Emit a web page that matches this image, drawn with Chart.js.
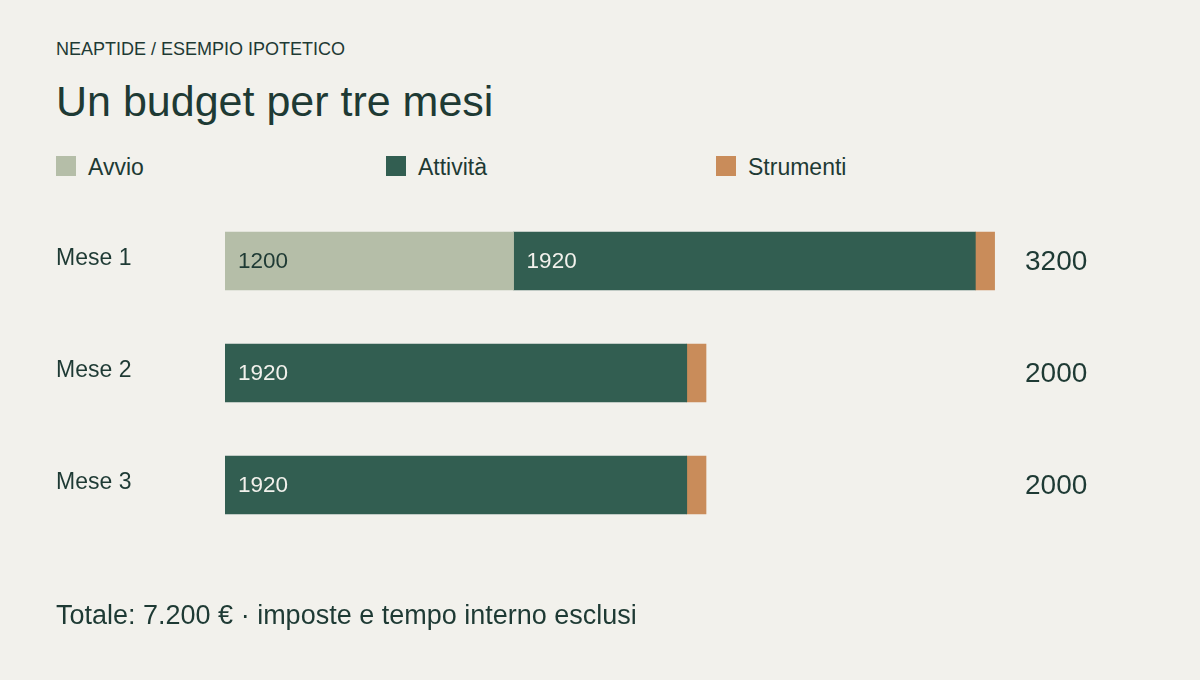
<!DOCTYPE html>
<html lang="it">
<head>
<meta charset="utf-8">
<script src="https://cdn.jsdelivr.net/npm/chart.js@4/dist/chart.umd.min.js"></script>
<style>
  html, body { margin: 0; padding: 0; background: #f2f1ec; }
  body { width: 1200px; height: 680px; position: relative; overflow: hidden;
         font-family: "Liberation Sans", Arial, sans-serif; color: #1e3a34; }
  .abs { position: absolute; line-height: 1; white-space: nowrap; }
  #kicker { left: 56px; top: 40px; font-size: 18px; }
  #title { left: 56px; top: 80px; font-size: 43px; }
  #legend { left: 0; top: 156px; height: 20px; }
  .item { position: absolute; top: 0; display: flex; align-items: center; height: 20px; font-size: 23px; }
  .item span:last-child { position: relative; top: 1px; }
  .sw { width: 20px; height: 20px; margin-right: 12px; }
  #footer { left: 56px; top: 602px; font-size: 27px; }
  #c { position: absolute; left: 0; top: 0; }
</style>
</head>
<body>
<div id="kicker" class="abs">NEAPTIDE / ESEMPIO IPOTETICO</div>
<div id="title" class="abs">Un budget per tre mesi</div>
<div id="legend" class="abs"></div>
<canvas id="c" width="1200" height="680"></canvas>
<div id="footer" class="abs">Totale: 7.200 € · imposte e tempo interno esclusi</div>
<script>
const categories = ['Mese 1', 'Mese 2', 'Mese 3'];
const seriesNames = ['Avvio', 'Attività', 'Strumenti'];
const avvio = [1200, null, null];
const attivita = [1920, 1920, 1920];
const strumenti = [80, 80, 80];
const seriesColors = ['#b5bea8', '#325e51', '#c98c5a'];
const labelColors = ['#1e3a34', '#f2f1ec', null];

const INK = '#1e3a34';
const FONT = '"Liberation Sans", Arial, sans-serif';

// HTML legend
const legendEl = document.getElementById('legend');
const legendX = [56, 386, 716];
seriesNames.forEach((n, i) => {
  const it = document.createElement('div');
  it.className = 'item';
  it.style.left = legendX[i] + 'px';
  it.innerHTML = '<span class="sw" style="background:' + seriesColors[i] + '"></span><span>' + n + '</span>';
  legendEl.appendChild(it);
});

const valueLabels = {
  id: 'valueLabels',
  afterDatasetsDraw(chart) {
    const ctx = chart.ctx;
    ctx.save();
    ctx.font = '22.5px ' + FONT;
    ctx.textBaseline = 'middle';
    ctx.textAlign = 'left';
    chart.data.datasets.forEach((ds, di) => {
      if (!labelColors[di]) return;
      const meta = chart.getDatasetMeta(di);
      meta.data.forEach((el, i) => {
        const v = ds.data[i];
        if (v == null) return;
        const x0 = Math.min(el.x, el.base);
        ctx.fillStyle = labelColors[di];
        ctx.fillText(String(v), x0 + 13, el.y + 1);
      });
    });
    // totals
    ctx.font = '28px ' + FONT;
    ctx.fillStyle = INK;
    const yScale = chart.scales.y;
    const xTot = chart.chartArea.right - 162;
    categories.forEach((c, i) => {
      const tot = (avvio[i] || 0) + (attivita[i] || 0) + (strumenti[i] || 0);
      ctx.fillText(String(tot), xTot, yScale.getPixelForValue(i) + 1);
    });
    ctx.restore();
  }
};

new Chart(document.getElementById('c'), {
  type: 'bar',
  data: {
    labels: categories,
    datasets: [
      { label: seriesNames[0], data: avvio, backgroundColor: seriesColors[0] },
      { label: seriesNames[1], data: attivita, backgroundColor: seriesColors[1] },
      { label: seriesNames[2], data: strumenti, backgroundColor: seriesColors[2] }
    ]
  },
  options: {
    indexAxis: 'y',
    responsive: false,
    animation: false,
    devicePixelRatio: 1,
    datasets: { bar: { barThickness: 58, borderWidth: 0 } },
    layout: { padding: { left: 56, right: 13, top: 205, bottom: 139 } },
    plugins: { legend: { display: false }, tooltip: { enabled: false } },
    scales: {
      x: { stacked: true, min: 0, max: 4000, display: false },
      y: {
        stacked: true,
        grid: { display: false },
        border: { display: false },
        ticks: { color: INK, font: { size: 23, family: FONT }, crossAlign: 'far', padding: 0, labelOffset: -2 },
        afterFit(scale) { scale.width = 169; }
      }
    }
  },
  plugins: [valueLabels]
});
</script>
</body>
</html>
